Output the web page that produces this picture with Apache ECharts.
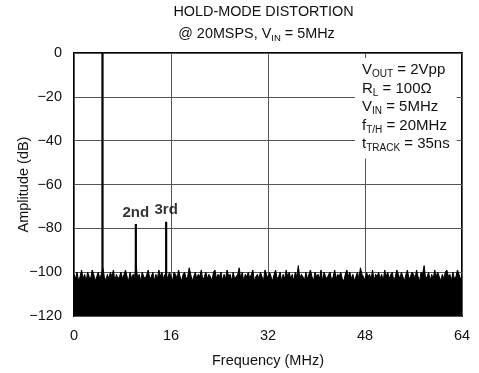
<!DOCTYPE html>
<html>
<head>
<meta charset="utf-8">
<script src="https://cdn.jsdelivr.net/npm/echarts@6/dist/echarts.min.js"></script>
<style>html,body{margin:0;padding:0;background:#fff;}#c{width:479px;height:373px;}</style>
</head>
<body>
<div id="c"></div>
<script>
// Tick values
var xTicks = [0, 16, 32, 48, 64];
var yTicks = [-120, -100, -80, -60, -40, -20, 0];
// Spectral lines: fundamental, 2nd, 3rd harmonic
var toneFreqs = [4.7, 10.2, 15.2];
var toneAmps = [0, -78, -77];
var toneLabels = ['', '2nd', '3rd'];
// Noise floor, 0.25 MHz bins from 0 to 64 MHz
var noiseStep = 0.25;
var noiseDb = [
-101,-103,-100,-104,-102,-99,-103,-101,-104,-100,-102,-103,-99,-101,-104,-102,
-100,-103,-101,-98,-102,-104,-101,-103,-100,-102,-99,-104,-101,-103,-102,-100,
-103,-101,-99,-102,-104,-100,-103,-101,-102,-97,-103,-101,-104,-100,-102,-103,
-101,-99,-103,-102,-100,-104,-101,-103,-99,-102,-100,-103,-101,-104,-102,-100,
-102,-104,-100,-101,-103,-99,-102,-104,-101,-100,-103,-102,-98,-101,-104,-102,
-100,-103,-101,-102,-99,-104,-102,-100,-103,-101,-102,-104,-100,-99,-103,-101,
-102,-100,-104,-101,-103,-99,-102,-101,-104,-100,-103,-102,-101,-98,-103,-100,
-104,-101,-102,-100,-103,-101,-99,-104,-102,-101,-103,-100,-102,-104,-99,-101,
-103,-100,-102,-104,-101,-99,-103,-102,-100,-104,-101,-103,-99,-102,-100,-103,
-101,-104,-100,-102,-97,-103,-101,-102,-104,-100,-103,-101,-99,-102,-104,-100,
-102,-101,-103,-99,-104,-100,-102,-103,-101,-100,-104,-102,-99,-103,-101,-102,
-100,-103,-104,-101,-99,-102,-100,-103,-101,-104,-102,-100,-103,-98,-101,-102,
-104,-100,-102,-101,-103,-99,-104,-101,-102,-100,-103,-101,-104,-99,-102,-100,
-103,-101,-100,-104,-102,-99,-101,-103,-100,-102,-104,-101,-99,-103,-102,-100,
-101,-103,-99,-102,-104,-100,-101,-97,-103,-102,-100,-104,-101,-103,-99,-102,
-100,-102,-104,-101,-103,-100,-99,-102,-101,-104,-100,-103,-102,-99,-101,-103,
-102
];

var FONT = '"Liberation Sans", Arial, sans-serif';
var noiseData = noiseDb.map(function (v, i) { return [i * noiseStep, v]; });

var series = [{
  type: 'line',
  data: noiseData,
  symbol: 'none',
  lineStyle: { color: '#000', width: 1 },
  areaStyle: { color: '#000', opacity: 1, origin: 'start' },
  z: 3,
  silent: true
}];
toneFreqs.forEach(function (f, i) {
  series.push({
    type: 'line',
    symbol: 'none',
    lineStyle: { color: '#000', width: 2.2 },
    z: 4,
    data: [[f, yTicks[0]], [f, toneAmps[i]]],
    silent: true
  });
});
// Harmonic labels
series.push({
  type: 'scatter',
  symbolSize: 0,
  z: 5,
  silent: true,
  data: toneFreqs.map(function (f, i) { return { value: [f, toneAmps[i]], name: toneLabels[i] }; }),
  label: {
    show: true,
    position: 'top',
    distance: 4,
    formatter: function (p) { return p.name; },
    fontFamily: FONT,
    fontWeight: 'bold',
    fontSize: 15,
    color: '#000'
  }
});

var chart = echarts.init(document.getElementById('c'), null, { renderer: 'canvas' });
chart.setOption({
  animation: false,
  backgroundColor: '#fff',
  title: [{
    text: 'HOLD-MODE DISTORTION',
    left: 263.5, top: 5, textAlign: 'center', padding: 0,
    textStyle: { fontFamily: FONT, fontSize: 14.4, fontWeight: 'normal', color: '#111' }
  }, {
    text: '@ 20MSPS, V{s|IN} = 5MHz',
    left: 256.5, top: 25, textAlign: 'center', padding: 0,
    textStyle: {
      fontFamily: FONT, fontSize: 14.4, fontWeight: 'normal', color: '#111', lineHeight: 18,
      rich: { s: { fontFamily: FONT, fontSize: 9.5, color: '#111', verticalAlign: 'bottom', lineHeight: 18 } }
    }
  }, {
    text: 'V{s|OUT} = 2Vpp\nR{s|L} = 100Ω\nV{s|IN} = 5MHz\nf{s|T/H} = 20MHz\nt{s|TRACK} = 35ns',
    left: 355, top: 58, padding: [3, 7, 5, 7], backgroundColor: '#fff',
    textStyle: {
      fontFamily: FONT, fontSize: 15, fontWeight: 'normal', color: '#111', lineHeight: 18.5,
      rich: { s: { fontFamily: FONT, fontSize: 10, color: '#111', verticalAlign: 'bottom', lineHeight: 18.5 } }
    }
  }],
  grid: {
    left: 74, right: 17, top: 53, bottom: 57,
    outerBoundsMode: 'none', containLabel: false,
    show: true, borderColor: '#000', borderWidth: 2, backgroundColor: 'transparent'
  },
  xAxis: {
    type: 'value', min: xTicks[0], max: xTicks[xTicks.length - 1], interval: 16,
    name: 'Frequency (MHz)', nameLocation: 'middle', nameGap: 37, nameMoveOverlap: false,
    nameTextStyle: { fontFamily: FONT, fontSize: 14.5, color: '#111' },
    axisLine: { show: false }, axisTick: { show: false },
    axisLabel: { fontFamily: FONT, fontSize: 14.5, color: '#111', margin: 12 },
    splitLine: { show: true, lineStyle: { color: '#555', width: 1 } }
  },
  yAxis: {
    type: 'value', min: yTicks[0], max: yTicks[yTicks.length - 1], interval: 20,
    name: 'Amplitude (dB)', nameLocation: 'middle', nameGap: 43, nameMoveOverlap: false,
    nameTextStyle: { fontFamily: FONT, fontSize: 14.5, color: '#111' },
    axisLine: { show: false }, axisTick: { show: false },
    axisLabel: {
      fontFamily: FONT, fontSize: 14.5, color: '#111', margin: 12,
      formatter: function (v) { return v < 0 ? '\u2212' + Math.abs(v) : String(v); }
    },
    splitLine: { show: true, lineStyle: { color: '#555', width: 1 } }
  },
  series: series
});
</script>
</body>
</html>
